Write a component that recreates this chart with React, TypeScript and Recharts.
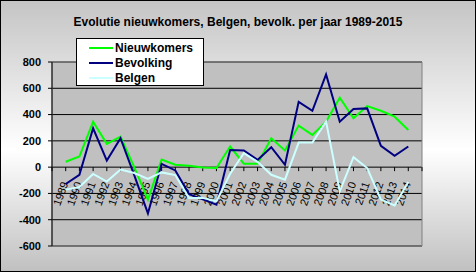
import React from "react";
import {
  LineChart,
  Line,
  XAxis,
  YAxis,
  CartesianGrid,
  ReferenceArea,
} from "recharts";

const YEARS = [
  1989, 1990, 1991, 1992, 1993, 1994, 1995, 1996, 1997, 1998, 1999, 2000, 2001,
  2002, 2003, 2004, 2005, 2006, 2007, 2008, 2009, 2010, 2011, 2012, 2013, 2014,
];

const NIEUWKOMERS = [
  41, 81, 346, 177, 232, 0, -247, 58, 18, 11, -2, -7, 157, 26, 26, 220, 127,
  316, 245, 346, 528, 372, 465, 429, 384, 283,
];

const BEVOLKING = [
  -128, -58, 296, 50, 220, -60, -352, 25, -25, -205, -245, -285, 131, 127, 55,
  152, 18, 497, 429, 705, 346, 442, 447, 162, 86, 157,
];

const BELGEN = [
  -171, -151, -52, -110, -18, -45, -90, -40, -60, -234, -234, -260, -50, 107,
  40, -58, -95, 187, 187, 346, -184, 76, -7, -247, -292, -113,
];

const Y_TICKS = [-600, -400, -200, 0, 200, 400, 600, 800];
const X_TICKS = [1988, ...YEARS, 2015];

const SERIES = [
  { key: "nieuwkomers", name: "Nieuwkomers", color: "#00ff00" },
  { key: "bevolking", name: "Bevolking", color: "#000080" },
  { key: "belgen", name: "Belgen", color: "#ccffff" },
];

const data = YEARS.map((year, i) => ({
  year,
  nieuwkomers: NIEUWKOMERS[i],
  bevolking: BEVOLKING[i],
  belgen: BELGEN[i],
}));

const W = 476;
const H = 272;
const Y_AXIS_W = 52;
const X_AXIS_H = 1;
const TOP = 62;
const BOTTOM = 26;
const RIGHT = 54;
const PLOT_H = H - TOP - BOTTOM;
const Y_MIN = -600;
const Y_MAX = 800;
// the category axis crosses the value axis at 0
const ZERO_SHIFT = (PLOT_H * (0 - Y_MIN)) / (Y_MAX - Y_MIN);

const font = "'Liberation Sans', Arial, sans-serif";

function YearTick(props: any) {
  const { x, y, payload } = props;
  const zy = y - ZERO_SHIFT;
  const v = payload.value;
  const tx = x - 1;
  const ty = zy + 15;
  return (
    <g>
      <line x1={x} y1={zy} x2={x} y2={zy + 4} stroke="#000" />
      {v >= 1989 && v <= 2014 && (
        <text
          x={tx}
          y={ty}
          textAnchor="end"
          fontSize={11}
          fontFamily={font}
          fill="#000"
          transform={`rotate(-70 ${tx} ${ty})`}
          dominantBaseline="central"
        >
          {v}
        </text>
      )}
    </g>
  );
}

function LegendBox() {
  return (
    <div
      style={{
        position: "absolute",
        left: 76,
        top: 38,
        width: 126,
        height: 45,
        background: "#fff",
        border: "1px solid #000",
        paddingTop: 1,
      }}
    >
      {SERIES.map((s) => (
        <div
          key={s.key}
          style={{ display: "flex", alignItems: "center", height: 15 }}
        >
          <div
            style={{
              width: 24,
              height: 2,
              marginLeft: 12,
              marginRight: 2,
              background: s.color,
            }}
          />
          <span
            style={{
              fontFamily: font,
              fontWeight: "bold",
              fontSize: 12,
              color: "#000",
            }}
          >
            {s.name}
          </span>
        </div>
      ))}
    </div>
  );
}

const layer: React.CSSProperties = { position: "absolute", top: 0, left: 0 };

export default function App() {
  return (
    <div
      style={{
        position: "relative",
        width: W,
        height: H,
        background:
          "linear-gradient(180deg, #c4c4c4 0%, #ffffff 55%, #c0c0c0 100%)",
      }}
    >
      <style>{`body{margin:0}`}</style>
      <div
        style={{
          position: "absolute",
          top: 15,
          left: 0,
          width: W,
          textAlign: "center",
          fontFamily: font,
          fontWeight: "bold",
          fontSize: 12,
          color: "#000",
        }}
      >
        Evolutie nieuwkomers, Belgen, bevolk. per jaar 1989-2015
      </div>
      {/* back layer: plot area, grid, axes and year labels */}
      <div style={layer}>
        <LineChart
          width={W}
          height={H}
          data={data}
          margin={{ top: TOP, right: RIGHT, bottom: BOTTOM - X_AXIS_H, left: 0 }}
        >
          <CartesianGrid
            vertical={false}
            stroke="#000"
            fill="#c0c0c0"
            fillOpacity={1}
          />
          <ReferenceArea
            x1={1988}
            x2={2015}
            y1={Y_MIN}
            y2={Y_MAX}
            fill="none"
            stroke="#808080"
            strokeWidth={1}
          />
          <XAxis
            dataKey="year"
            type="number"
            domain={[1988, 2015]}
            ticks={X_TICKS}
            interval={0}
            axisLine={false}
            tickLine={false}
            tickSize={0}
            tickMargin={0}
            height={X_AXIS_H}
            tick={(p: any) => <YearTick {...p} />}
          />
          <YAxis
            domain={[Y_MIN, Y_MAX]}
            ticks={Y_TICKS}
            interval={0}
            width={Y_AXIS_W}
            axisLine={{ stroke: "#000" }}
            tickLine={{ stroke: "#000" }}
            tickSize={4}
            tickMargin={7}
            tick={{
              fontSize: 11,
              fontWeight: "bold",
              fontFamily: font,
              fill: "#000",
            }}
          />
          {/* invisible copies so the axes of this layer get their scales */}
          {SERIES.map((s) => (
            <Line
              key={s.key}
              dataKey={s.key}
              stroke="none"
              dot={false}
              activeDot={false}
              isAnimationActive={false}
            />
          ))}
        </LineChart>
      </div>
      {/* front layer: the series, drawn over the year labels */}
      <div style={layer}>
        <LineChart
          width={W}
          height={H}
          data={data}
          margin={{ top: TOP, right: RIGHT, bottom: BOTTOM, left: Y_AXIS_W }}
        >
          <XAxis
            dataKey="year"
            type="number"
            domain={[1988, 2015]}
            hide
          />
          <YAxis domain={[Y_MIN, Y_MAX]} hide />
          {SERIES.map((s) => (
            <Line
              key={s.key}
              dataKey={s.key}
              name={s.name}
              type="linear"
              stroke={s.color}
              strokeWidth={2}
              dot={false}
              isAnimationActive={false}
            />
          ))}
        </LineChart>
      </div>
      <LegendBox />
      <div
        style={{
          position: "absolute",
          inset: 0,
          border: "1px solid #000",
          pointerEvents: "none",
        }}
      />
    </div>
  );
}
